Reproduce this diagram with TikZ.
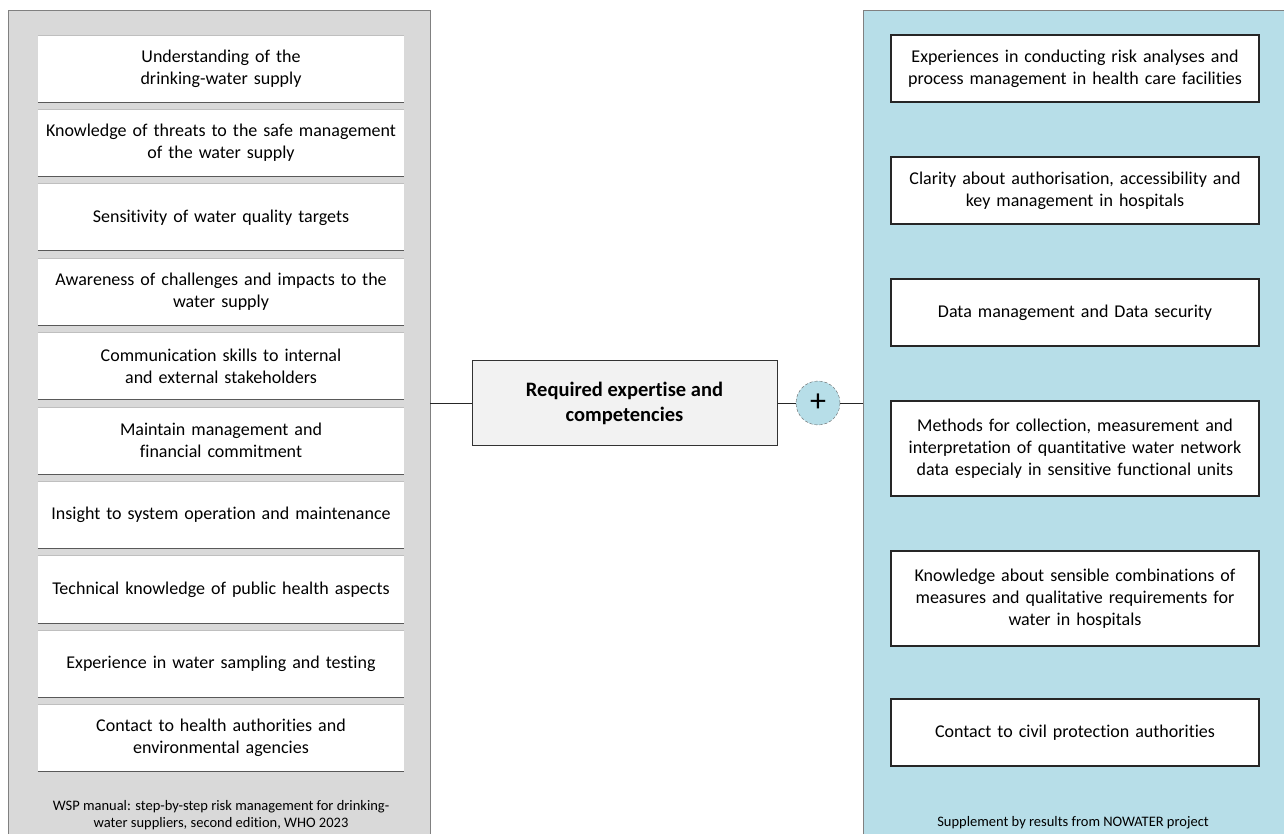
\documentclass[tikz,border=0pt]{standalone}
\usepackage{fontspec}
\setmainfont{Carlito}[Ligatures=NoCommon]
\usepackage{tikz}
\usetikzlibrary{positioning}

\definecolor{panelgray}{RGB}{217,217,217}
\definecolor{panelblue}{RGB}{183,222,232}
\definecolor{centrefill}{RGB}{242,242,242}

\tikzset{
  leftbox/.style={fill=white, minimum width=366pt, minimum height=67pt, text width=360pt,
    align=center, inner sep=0pt, font=\fontsize{18}{22}\selectfont},
  rightbox/.style={draw=black!85, line width=1.2pt, fill=white, minimum width=368pt, minimum height=67pt,
    text width=360pt, align=center, inner sep=0pt, outer sep=0pt, font=\fontsize{18}{22}\selectfont},
  centrebox/.style={draw=black!80, line width=1pt, fill=centrefill, minimum width=305pt, minimum height=85pt,
    align=center, font=\fontsize{20.5}{25}\selectfont\bfseries},
  plusnode/.style={circle, draw=black!60, densely dashed, fill=panelblue, minimum size=44pt, inner sep=0pt,
    font=\fontsize{32}{32}\selectfont},
  footnote/.style={align=center, font=\fontsize{14.5}{16.5}\selectfont},
  link/.style={line width=1pt, black!85}
}

\begin{document}
\begin{tikzpicture}[x=1pt,y=-1pt]
  \useasboundingbox (0,0) rectangle (1284,834);
  % panels
  \draw[fill=panelgray, draw=black!50] (8,10) rectangle (430,840);
  \draw[fill=panelblue, draw=black!50] (863,10) rectangle (1290,840);
  \coordinate (lp) at (430,403);
  \coordinate (rp) at (863,403);

  % left column
  \node[leftbox] (l1) at (221,68.5) {Understanding of the\\drinking-water supply};
  \node[leftbox, below=7pt of l1] (l2) {Knowledge of threats to the safe management\\of the water supply};
  \node[leftbox, below=7pt of l2] (l3) {Sensitivity of water quality targets};
  \node[leftbox, below=7pt of l3] (l4) {Awareness of challenges and impacts to the\\water supply};
  \node[leftbox, below=7pt of l4] (l5) {Communication skills to internal\\and external stakeholders};
  \node[leftbox, below=7pt of l5] (l6) {Maintain management and\\financial commitment};
  \node[leftbox, below=7pt of l6] (l7) {Insight to system operation and maintenance};
  \node[leftbox, below=7pt of l7] (l8) {Technical knowledge of public health aspects};
  \node[leftbox, below=7pt of l8] (l9) {Experience in water sampling and testing};
  \node[leftbox, below=7pt of l9] (l10) {Contact to health authorities and\\environmental agencies};
  \foreach \i in {1,...,10} {
    \draw[black!25] (l\i.north west) -- (l\i.north east);
    \draw[black!65, line width=1pt] (l\i.south west) -- (l\i.south east);
  }
  \node[footnote] (lsrc) at (221,815) {WSP manual: step-by-step risk management for drinking-\\water suppliers, second edition, WHO 2023};

  % right column
  \node[rightbox] (r1) at (1075,68.5) {Experiences in conducting risk analyses and\\process management in health care facilities};
  \node[rightbox, below=55pt of r1] (r2) {Clarity about authorisation, accessibility and\\key management in hospitals};
  \node[rightbox, below=55pt of r2] (r3) {Data management and Data security};
  \node[rightbox, minimum height=95pt, below=55pt of r3] (r4) {Methods for collection, measurement and\\interpretation of quantitative water network\\data especialy in sensitive functional units};
  \node[rightbox, minimum height=95pt, below=55pt of r4] (r5) {Knowledge about sensible combinations of\\measures and qualitative requirements for\\water in hospitals};
  \node[rightbox, below=53pt of r5] (r6) {Contact to civil protection authorities};
  \node[footnote] (rsrc) at (1073,823) {Supplement by results from NOWATER project};

  % centre
  \node[centrebox] (core) at (624.5,403) {Required expertise and\\competencies};
  \node[plusnode] (plus) at (818,403) {+};
  \draw[link] (lp) -- (core);
  \draw[link] (core) -- (plus);
  \draw[link] (plus) -- (rp);
\end{tikzpicture}
\end{document}
